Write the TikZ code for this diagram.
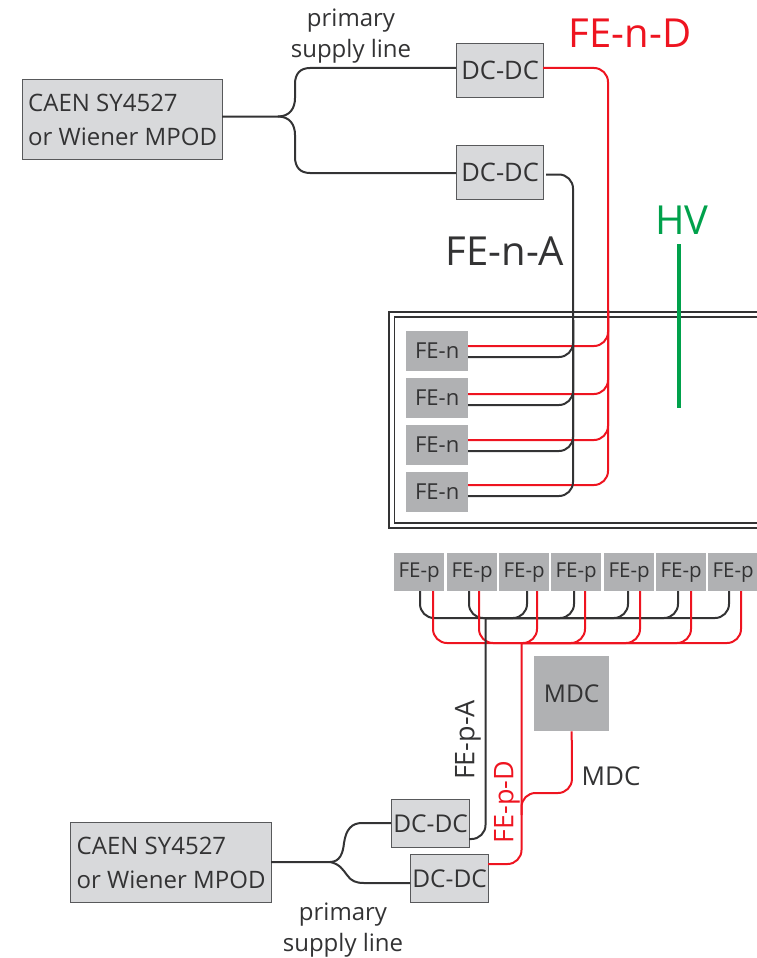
\documentclass[tikz,border=0pt]{standalone}
\usepackage{fontspec}
\setmainfont{Open Sans}
\definecolor{wireblack}{HTML}{333334}
\definecolor{wirered}{HTML}{EE1420}
\definecolor{wiregreen}{HTML}{00A14B}
\definecolor{boxlight}{HTML}{D8D9DB}
\definecolor{boxedge}{HTML}{58595B}
\definecolor{boxdark}{HTML}{B0B1B3}
\tikzset{
  psubox/.style={draw=boxedge, line width=1.2pt, fill=boxlight, text=wireblack, inner sep=0pt, anchor=north west},
  febox/.style={fill=boxdark, text=wireblack, inner sep=0pt, anchor=north west},
  blackwire/.style={draw=wireblack, line width=2pt, rounded corners=14pt},
  redwire/.style={draw=wirered, line width=2pt, rounded corners=14pt},
  label/.style={text=wireblack, font=\fontsize{24}{31}\selectfont, align=center},
  biglabel/.style={font=\fontsize{40}{44}\selectfont}
}
\begin{document}
\begin{tikzpicture}[x=1pt,y=-1pt]
  \useasboundingbox (0,0) rectangle (756,958);

  % Power supplies
  \node[psubox, minimum width=200pt, minimum height=80pt, font=\fontsize{24}{34}\selectfont, align=left] (caenn) at (22,79) {CAEN SY4527\\or Wiener MPOD};
  \node[psubox, minimum width=201pt, minimum height=80pt, font=\fontsize{24}{34}\selectfont, align=left] (caenp) at (70,822) {CAEN SY4527\\or Wiener MPOD};

  % DC-DC converters
  \node[psubox, minimum width=87pt, minimum height=54pt, font=\fontsize{25.5}{28}\selectfont] (dcnd) at (456,43) {DC-DC};
  \node[psubox, minimum width=87pt, minimum height=54pt, font=\fontsize{25.5}{28}\selectfont] (dcna) at (456,145) {DC-DC};
  \node[psubox, minimum width=78pt, minimum height=48pt, font=\fontsize{24.5}{28}\selectfont] (dcpa) at (391,799) {DC-DC};
  \node[psubox, minimum width=78pt, minimum height=48pt, font=\fontsize{24.5}{28}\selectfont] (dcpd) at (410,854) {DC-DC};

  % Ends of the lines at the boxes
  \coordinate (caennout) at (222,116.5);
  \coordinate (caenpout) at (271,862);
  \coordinate (dcndin) at (456,68);
  \coordinate (dcndout) at (543,68);
  \coordinate (dcnain) at (456,173);
  \coordinate (dcnaout) at (546,174.5);
  \coordinate (dcpain) at (391,823);
  \coordinate (dcpaout) at (469,839);
  \coordinate (dcpdin) at (410,883);
  \coordinate (dcpdout) at (488,864);

  % Double frame
  \draw[wireblack, line width=1.5pt] (757,312) -- (389,312) -- (389,528) -- (757,528);
  \draw[wireblack, line width=1.5pt] (757,317) -- (394.5,317) -- (394.5,523) -- (757,523);

  % FE-n boards
  \foreach \i/\y/\r/\b in {1/331/346/357, 2/378/394/405, 3/425/440/451, 4/472/485/496} {
    \node[febox, minimum width=62pt, minimum height=39.5pt, font=\fontsize{22}{24}\selectfont] (fen\i) at (406,\y) {FE-n};
    \coordinate (fenr\i) at (468,\r);
    \coordinate (fenb\i) at (468,\b);
  }

  % FE-p boards
  \foreach \i/\x in {1/394, 2/447, 3/499, 4/551, 5/604, 6/656, 7/708} {
    \node[febox, minimum width=50pt, minimum height=38pt, font=\fontsize{20.5}{22}\selectfont] (fep\i) at (\x,553) {FE-p};
  }
  \node[febox, minimum width=75pt, minimum height=75pt, font=\fontsize{24.5}{26}\selectfont] (mdc) at (534,656) {MDC};

  % Supply lines
  \draw[blackwire, rounded corners=0pt] (caennout) -- (278,116.5) .. controls (290,116.5) and (295,108) .. (295,98) -- (295,84) .. controls (295,74) and (300,68) .. (310,68) -- (dcndin);
  \draw[blackwire, rounded corners=0pt] (278,116.5) .. controls (290,116.5) and (295,125) .. (295,135) -- (295,157) .. controls (295,167) and (300,173) .. (310,173) -- (dcnain);
  \draw[blackwire, rounded corners=0pt] (caenpout) -- (330,862) .. controls (340,862) and (343,853) .. (344,843) .. controls (346,829) and (352,823) .. (362,823) -- (dcpain);
  \draw[blackwire, rounded corners=0pt] (330,862) .. controls (340,864) and (343,870) .. (347,875) .. controls (351,881) and (356,883) .. (364,883) -- (dcpdin);

  % Red FE-n lines
  \draw[redwire] (dcndout) -- (608,68) -- (608,485) -- (fenr4);
  \foreach \i/\r in {1/346, 2/394, 3/440} {
    \draw[redwire] (fenr\i) -- (608,\r) -- (608,310);
  }

  % Black FE-n lines
  \draw[blackwire] (dcnaout) -- (573,174.5) -- (573,496) -- (fenb4);
  \foreach \i/\b in {1/357, 2/405, 3/451} {
    \draw[blackwire] (fenb\i) -- (573,\b) -- (573,320);
  }

  % FE-p buses
  \foreach \x in {420, 469} {
    \draw[blackwire] (\x,591) -- (\x,618) -- (500,618);
  }
  \foreach \x in {527, 574, 628, 678, 729} {
    \draw[blackwire] (\x,591) -- (\x,618) -- (485.5,618);
  }
  \foreach \x in {433, 479} {
    \draw[redwire] (\x,591) -- (\x,643) -- (521.5,643);
  }
  \foreach \x in {537, 585, 640, 691, 741} {
    \draw[redwire] (\x,591) -- (\x,643) -- (521.5,643);
  }

  % Trunks to the converters
  \draw[redwire] (521.5,643) -- (521.5,864) -- (dcpdout);
  \draw[blackwire] (485.5,618) -- (485.5,839) -- (dcpaout);
  \draw[redwire] (mdc.south) -- (572,793) -- (521.5,793) -- (521.5,815);

  % HV
  \draw[wiregreen, line width=4pt] (679,244) -- (679,408);

  % Labels
  \node[label] (supn) at (351,36) {primary\\supply line};
  \node[label] (supp) at (343,930) {primary\\supply line};
  \node[biglabel, text=wirered] (fend) at (630,33) {FE-n-D};
  \node[biglabel, text=wireblack] (fena) at (505,251) {FE-n-A};
  \node[biglabel, text=wiregreen] (hv) at (682,220) {HV};
  \node[label, rotate=90, font=\fontsize{27}{30}\selectfont] (fepa) at (468,740) {FE-p-A};
  \node[label, rotate=90, text=wirered, font=\fontsize{27}{30}\selectfont] (fepd) at (507,802) {FE-p-D};
  \node[label, font=\fontsize{26}{30}\selectfont] (mdclab) at (611,776) {MDC};
\end{tikzpicture}
\end{document}
